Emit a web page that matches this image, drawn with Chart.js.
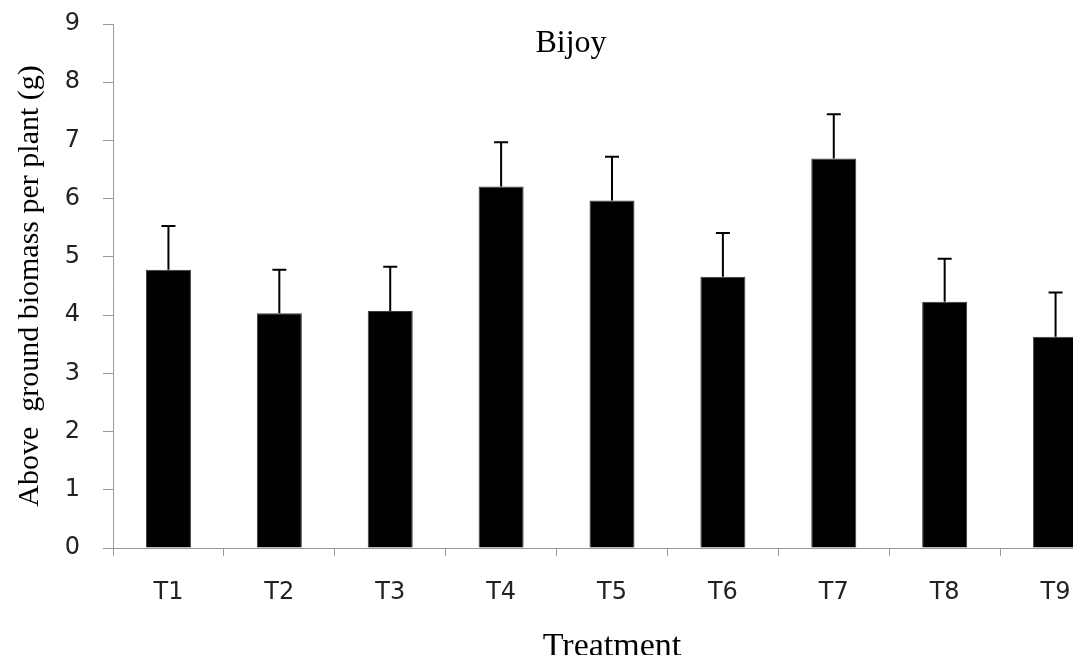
<!DOCTYPE html>
<html>
<head>
<meta charset="utf-8">
<script src="https://cdn.jsdelivr.net/npm/chart.js@4/dist/chart.umd.min.js"></script>
<style>
  html, body { margin: 0; padding: 0; background: #fff; overflow: hidden; }
  body { width: 1073px; height: 655px; }
  #wrap { width: 1120px; height: 667px; }
</style>
</head>
<body>
<div id="wrap"><canvas id="c" width="1120" height="667"></canvas></div>
<script>
// Above ground biomass per plant (g), variety Bijoy
const treatments = ['T1', 'T2', 'T3', 'T4', 'T5', 'T6', 'T7', 'T8', 'T9'];
const biomass = [4.78, 4.03, 4.07, 6.21, 5.97, 4.66, 6.69, 4.23, 3.63];
const stdError = [0.75, 0.75, 0.76, 0.76, 0.75, 0.75, 0.76, 0.74, 0.76];
const yTicks = [0, 1, 2, 3, 4, 5, 6, 7, 8, 9];
const chartTitle = 'Bijoy';
const xTitle = 'Treatment';
const yTitle = 'Above  ground biomass per plant (g)';

const serif = '"Liberation Serif", "Times New Roman", serif';
const sans = '"DejaVu Sans", Verdana, sans-serif';

// upper error bars with a short cap
const errorBars = {
  id: 'errorBars',
  afterDatasetsDraw(chart) {
    const ctx = chart.ctx;
    const y = chart.scales.y;
    const meta = chart.getDatasetMeta(0);
    ctx.save();
    ctx.strokeStyle = '#000';
    ctx.lineWidth = 2;
    meta.data.forEach((bar, i) => {
      const top = y.getPixelForValue(biomass[i] + stdError[i]);
      ctx.beginPath();
      ctx.moveTo(bar.x, bar.y);
      ctx.lineTo(bar.x, top);
      ctx.moveTo(bar.x - 7, top);
      ctx.lineTo(bar.x + 7, top);
      ctx.stroke();
    });
    ctx.restore();
  }
};

// title placed inside the plot area
const innerTitle = {
  id: 'innerTitle',
  afterDraw(chart) {
    const ctx = chart.ctx;
    ctx.save();
    ctx.font = '32px ' + serif;
    ctx.fillStyle = '#000';
    ctx.textAlign = 'center';
    ctx.textBaseline = 'alphabetic';
    ctx.fillText(chartTitle, 571, 52);
    ctx.restore();
  }
};

new Chart(document.getElementById('c'), {
  type: 'bar',
  data: {
    labels: treatments,
    datasets: [{
      data: biomass,
      backgroundColor: '#000',
      borderColor: '#3a3a3a',
      borderWidth: 1,
      categoryPercentage: 1,
      barPercentage: 0.406
    }]
  },
  options: {
    responsive: false,
    animation: false,
    events: [],
    layout: { padding: { top: 24, right: 9, left: 0, bottom: 0 } },
    plugins: { legend: { display: false }, tooltip: { enabled: false }, title: { display: false } },
    scales: {
      x: {
        grid: { display: true, drawOnChartArea: false, drawTicks: true, tickLength: 8, color: '#9a9a9a', offset: true },
        border: { display: true, color: '#9a9a9a', width: 1 },
        ticks: { color: '#222', font: { family: sans, size: 24 }, padding: 22, maxRotation: 0, autoSkip: false },
        title: { display: true, text: xTitle, color: '#000', font: { family: serif, size: 34 }, padding: 0 },
        afterFit(scale) { scale.height = 119; }
      },
      y: {
        min: 0,
        max: 9,
        afterBuildTicks(scale) { scale.ticks = yTicks.map(v => ({ value: v })); },
        grid: { display: true, drawOnChartArea: false, drawTicks: true, tickLength: 10, color: '#9a9a9a' },
        border: { display: true, color: '#9a9a9a', width: 1 },
        ticks: { color: '#222', font: { family: sans, size: 24 }, padding: 23 },
        title: { display: true, text: yTitle, color: '#000', font: { family: serif, size: 30 }, padding: { top: 12, bottom: 0 } },
        afterFit(scale) {
          scale.width = 113;
          scale.paddingTop = 0;
          scale.paddingBottom = 0;
        }
      }
    }
  },
  plugins: [errorBars, innerTitle]
});
</script>
</body>
</html>
